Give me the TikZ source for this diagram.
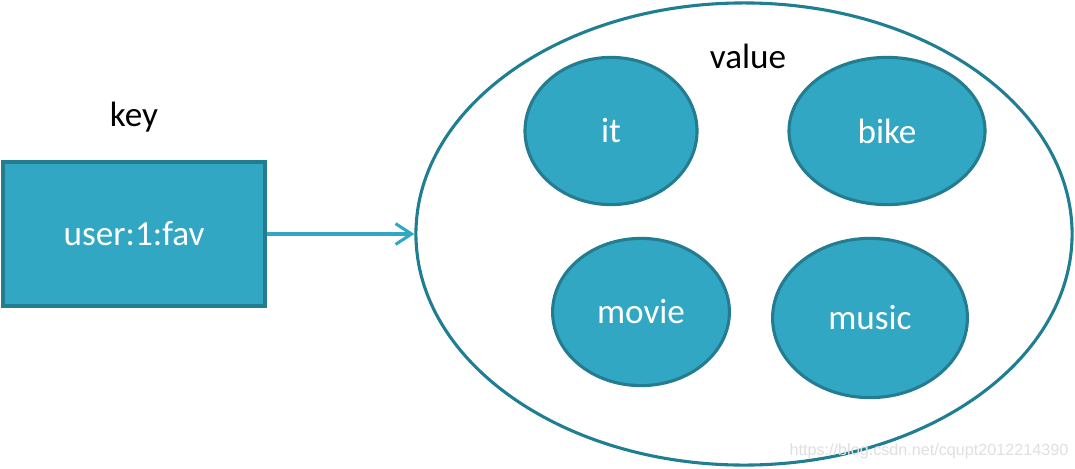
\documentclass[tikz,border=0pt]{standalone}
\usepackage{fontspec}
\setmainfont{Carlito}
\setsansfont{Liberation Sans}
\usepackage{tikz}
\usetikzlibrary{arrows.meta,positioning,shapes.geometric}
\definecolor{cellFill}{RGB}{49,167,195}
\definecolor{cellEdge}{RGB}{36,124,144}
\definecolor{setEdge}{RGB}{32,126,146}
\tikzset{
  keycell/.style={rectangle, draw=cellEdge, fill=cellFill, line width=2.2pt,
    minimum width=6.55cm, minimum height=3.6cm, inner sep=0pt, text=white},
  member/.style={ellipse, draw=cellEdge, fill=cellFill, line width=2.2pt,
    inner sep=0pt, text=white},
  setln/.style={ellipse, draw=setEdge, fill=white, line width=2.2pt, inner sep=0pt,
    minimum width=16.4cm, minimum height=11.55cm},
  linkln/.style={-{Straight Barb[length=4mm,width=5.2mm,line width=2.2pt]},
    line width=2.2pt, cellFill},
  bigtxt/.style={font=\fontsize{25}{30}\selectfont},
}

\begin{document}
\begin{tikzpicture}[x=0.025cm, y=-0.025cm]
    \useasboundingbox (0,0) rectangle (1075,468);
    % left: the key
    \node[keycell, bigtxt] (keybox) at (134,234) {user:1:fav};
    \node[bigtxt] (keylbl) at (134,117) {key};
    % right: the value set
    \node[setln] (valset) at (744,234) {};
    \node[bigtxt] (vallbl) at (748,56) {value};
    \node[member, bigtxt, minimum width=4.3cm, minimum height=3.68cm] (it) at (611,131) {it};
    \node[member, bigtxt, minimum width=4.9cm, minimum height=3.68cm] (bike) at (887,131) {bike};
    \node[member, bigtxt, minimum width=4.42cm, minimum height=3.68cm] (movie) at (641,312) {movie};
    \node[member, bigtxt, minimum width=4.87cm, minimum height=3.98cm] (music) at (870,318) {music};
    \draw[linkln] (keybox.east) -- (valset.west);
    % watermark
    \node[text=gray!25, font=\sffamily\fontsize{11.5}{13}\selectfont] (mark) at (929,451)
      {https://blog.csdn.net/cqupt2012214390};
  \end{tikzpicture}
\end{document}
